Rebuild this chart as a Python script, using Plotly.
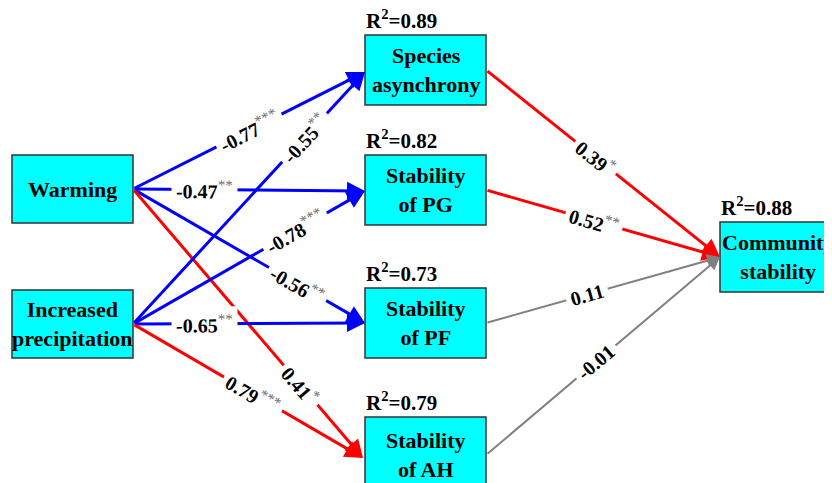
import numpy as np
import plotly.graph_objects as go

# ---------------- data ----------------
node_names = ["Warming", "Increased<br>precipitation", "Species<br>asynchrony",
              "Stability<br>of PG", "Stability<br>of PF", "Stability<br>of AH",
              "Community<br>stability"]
node_r2 = [None, None, 0.89, 0.82, 0.73, 0.79, 0.88]

edge_source = [0, 0, 0, 0, 1, 1, 1, 1, 2, 3, 4, 5]
edge_target = [2, 3, 4, 5, 2, 3, 4, 5, 6, 6, 6, 6]
edge_coef = [-0.77, -0.47, -0.56, 0.41, -0.55, -0.78, -0.65, 0.79, 0.39, 0.52, 0.11, -0.01]
edge_stars = ["***", "**", "**", "*", "**", "***", "**", "***", "*", "**", "", ""]
edge_signif = [True, True, True, True, True, True, True, True, True, True, False, False]

# ---------------- layout (pixel geometry) ----------------
W, H = 832, 483
OFF = 8  # page body margin compensation
boxes = [(12, 155, 133, 223), (12, 290, 133, 358), (365, 35, 486, 105),
         (365, 155, 486, 225), (365, 288, 486, 358), (365, 417, 486, 492),
         (720, 222, 836, 292)]
in_pts = [None, None, (365, 72), (365, 191), (365, 323), (363, 458), (720, 257)]
out_pts = [(133, 189), (133, 324), (486, 70), (486, 190), (486, 323), (486, 455), None]
label_t = [0.50, 0.31, 0.71, 0.73, 0.74, 0.70, 0.31, 0.52, 0.47, 0.46, 0.43, 0.47]

FONT = "Liberation Serif, Times New Roman, serif"

fig = go.Figure()
fig.add_trace(go.Scatter(x=[0, W], y=[0, H], mode="markers",
                         marker=dict(opacity=0), hoverinfo="skip", showlegend=False))

shapes = []
annotations = []

# boxes
for (x0, y0, x1, y1) in boxes:
    shapes.append(dict(type="rect", x0=x0, y0=y0, x1=x1, y1=y1, xref="x", yref="y",
                       fillcolor="#00FFFF", line=dict(color="#333333", width=1.5),
                       layer="below"))

# arrows
for s, t, c, sig in zip(edge_source, edge_target, edge_coef, edge_signif):
    (xa, ya) = out_pts[s]
    (xb, yb) = in_pts[t]
    if sig:
        col = "#0000FF" if c < 0 else "#FF0000"
        w, sz = 3, 1.2
    else:
        col = "#808080"
        w, sz = 2, 1.3
    annotations.append(dict(x=xb, y=yb, ax=xa, ay=ya, xref="x", yref="y",
                            axref="x", ayref="y", text="", showarrow=True,
                            arrowhead=2, arrowsize=sz, arrowwidth=w,
                            arrowcolor=col, standoff=0))

# coefficient labels
for i, (s, t, c, st) in enumerate(zip(edge_source, edge_target, edge_coef, edge_stars)):
    (xa, ya) = out_pts[s]
    (xb, yb) = in_pts[t]
    f = label_t[i]
    xm, ym = xa + f * (xb - xa), ya + f * (yb - ya)
    ang = np.degrees(np.arctan2(yb - ya, xb - xa))
    txt = f"<b>{c:.2f}</b>"
    if st:
        txt += (f"<sup><span style='color:#707070;font-size:15px'>{st}</span></sup>")
    annotations.append(dict(x=xm, y=ym, xref="x", yref="y", text=txt, showarrow=False,
                            textangle=ang, bgcolor="white", borderpad=4,
                            font=dict(family=FONT, size=20, color="black")))

# node labels and R2
for i, (x0, y0, x1, y1) in enumerate(boxes):
    annotations.append(dict(x=(x0 + x1) / 2, y=(y0 + y1) / 2, xref="x", yref="y",
                            text=f"<b>{node_names[i]}</b>", showarrow=False,
                            font=dict(family=FONT, size=22, color="black")))
    if node_r2[i] is not None:
        annotations.append(dict(x=x0, y=y0 - 1, xref="x", yref="y",
                                xanchor="left", yanchor="bottom",
                                text=f"<b>R<sup>2</sup>=%.2f</b>" % node_r2[i],
                                showarrow=False, borderpad=0,
                                font=dict(family=FONT, size=21, color="black")))

fig.update_layout(
    width=W, height=H, margin=dict(l=0, r=0, t=0, b=0),
    paper_bgcolor="white", plot_bgcolor="white",
    xaxis=dict(range=[OFF, W + OFF], visible=False, fixedrange=True),
    yaxis=dict(range=[H + OFF, OFF], visible=False, fixedrange=True),
    shapes=shapes, annotations=annotations, showlegend=False,
)

fig.write_html("out.html")
